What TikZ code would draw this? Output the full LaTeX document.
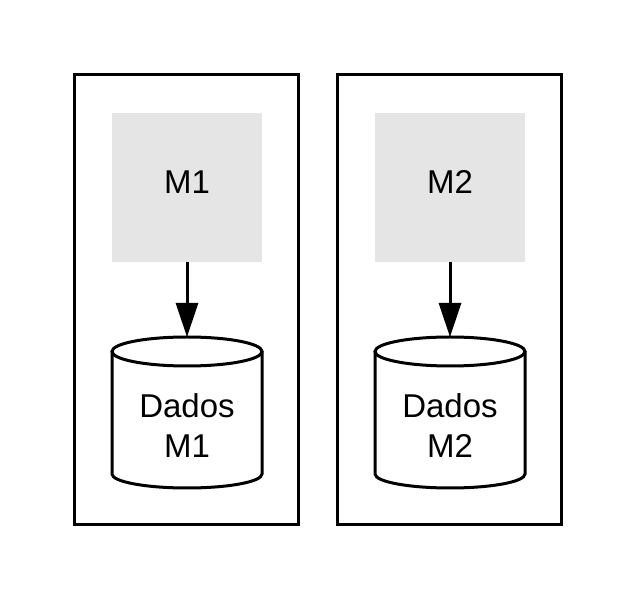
\documentclass[tikz,border=0pt]{standalone}
\usepackage{fontspec}
\setmainfont{Liberation Sans}
\usetikzlibrary{arrows.meta}
\begin{document}
\begin{tikzpicture}[x=1pt,y=1pt,
  outerbox/.style={draw=black,line width=3pt,fill=white},
  modbox/.style={fill=black!10,draw=none,minimum width=150pt,minimum height=149pt,inner sep=0pt,text height=24pt,text depth=11pt,font=\fontsize{33}{40}\selectfont},
  cyl/.style={draw=black,line width=3pt,fill=white},
  cyltext/.style={align=center,font=\fontsize{33}{40}\selectfont,inner sep=0pt},
  flow/.style={line width=3pt,-{Triangle[length=34pt,width=22pt]}}]
\useasboundingbox (0,0) rectangle (638,600);
\fill[white] (0,0) rectangle (638,600);
% outer containers
\draw[outerbox] (74.5,75.5) rectangle (298.5,525.5);
\draw[outerbox] (337,75.5) rectangle (561.5,525.5);
% cylinders
\foreach \cx/\nm in {187/1,450/2}{
  \draw[cyl] (\cx-75,248.5) -- (\cx-75,126) arc[start angle=180,end angle=360,x radius=75,y radius=14] -- (\cx+75,248.5);
  \draw[cyl] (\cx,248.5) ellipse[x radius=75,y radius=14.5];
}
\coordinate (c1) at (187,263);
\coordinate (c2) at (450,263);
\node[cyltext] (d1) at (187,174) {Dados\\M1};
\node[cyltext] (d2) at (450,174) {Dados\\M2};
% modules
\node[modbox] (m1) at (187,412.5) {M1};
\node[modbox] (m2) at (450,412.5) {M2};
\draw[flow] (m1.south) -- (c1);
\draw[flow] (m2.south) -- (c2);
\end{tikzpicture}
\end{document}
